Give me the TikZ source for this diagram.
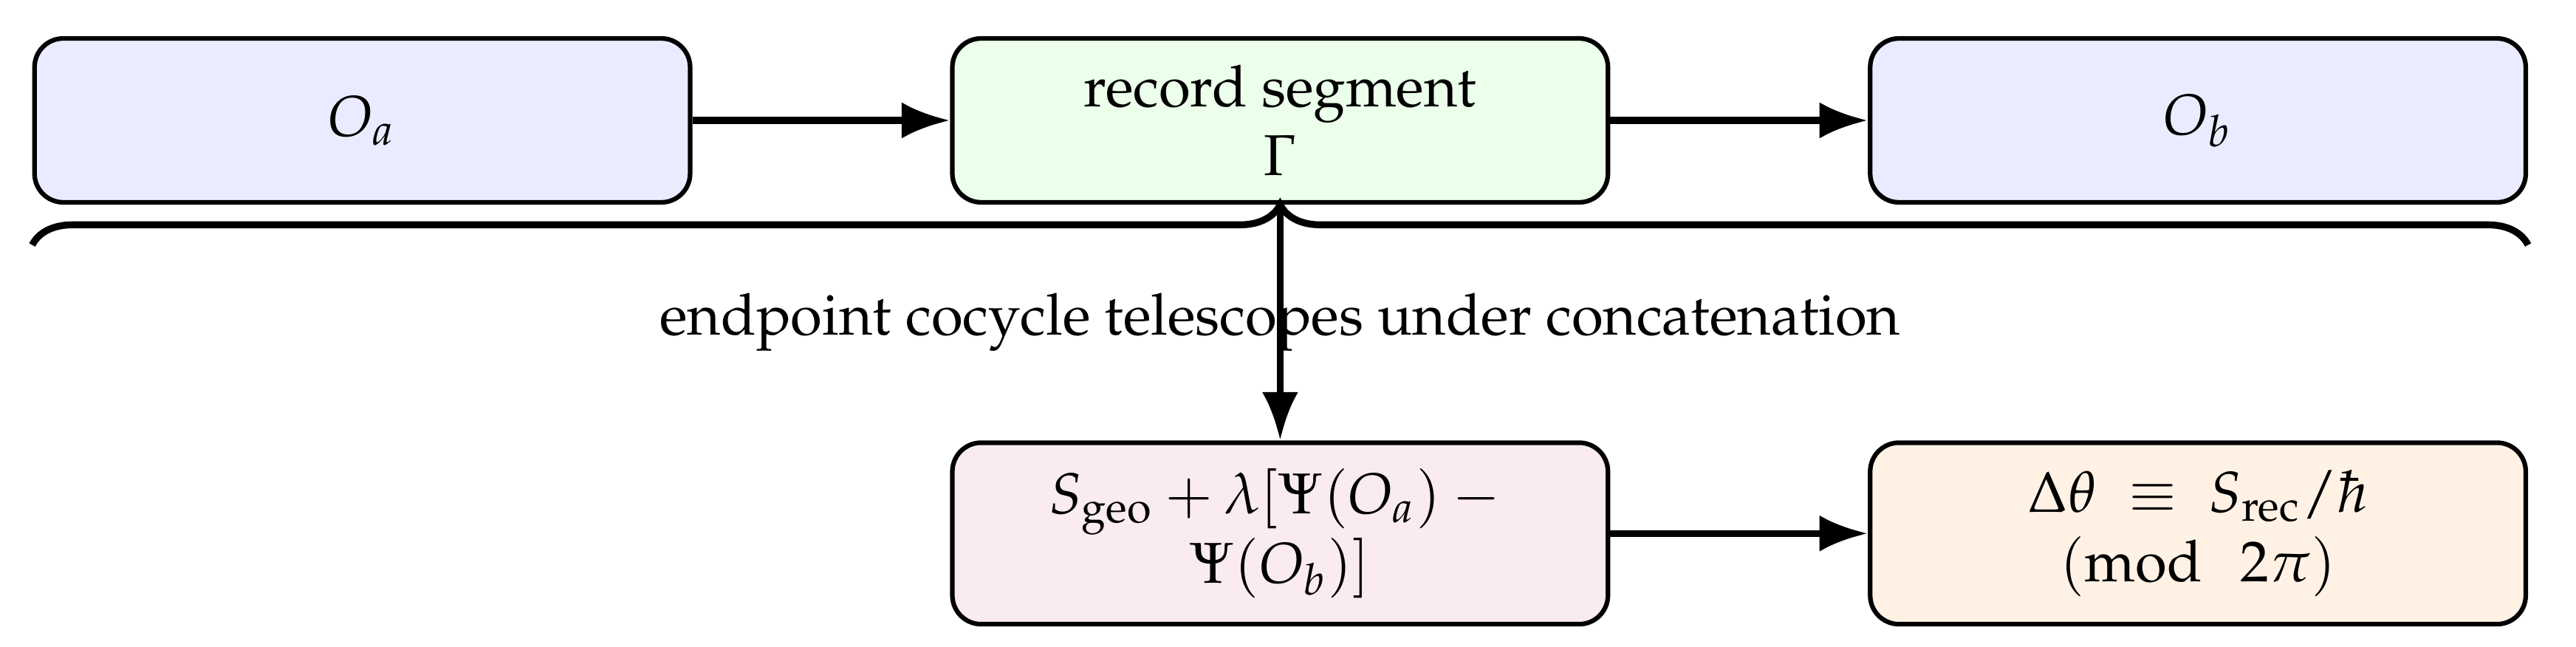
\documentclass[tikz,border=0pt]{standalone}
\usepackage[T1]{fontenc}
\usepackage{amsmath}
\usepackage{mathpazo}
\usetikzlibrary{arrows.meta,decorations.pathreplacing}
\begin{document}
\begin{tikzpicture}[
  box/.style={draw, line width=0.8pt, rounded corners=5pt, minimum width=4cm,
    minimum height=1cm, align=center, inner sep=3pt},
  tallbox/.style={box, minimum height=31.5pt},
  conn/.style={line width=1.2pt, -{Latex}},
  bracestyle/.style={line width=1.2pt, decorate, decoration={brace, amplitude=7pt}}
]
\useasboundingbox (-62.9pt,20.9pt) rectangle (384.3pt,-91.3pt);
\node[box, fill=blue!8] (oa) at (0,0) {$O_a$};
\node[box, fill=green!8] (rec) at (5.6cm,0) {record segment\\$\Gamma$};
\node[box, fill=blue!8] (ob) at (11.2cm,0) {$O_b$};
\node[tallbox, fill=purple!8] (act) at (5.6cm,-71.7pt)
  {$S_{\mathrm{geo}} + \lambda[\Psi(O_a) -{}$\\$\Psi(O_b)]$};
\node[tallbox, fill=orange!10] (phase) at (11.2cm,-71.7pt)
  {$\Delta\theta \;\equiv\; S_{\mathrm{rec}}/\hbar$\\$(\mathrm{mod}\mkern12mu 2\pi)$};
\draw[conn] (oa) -- (rec);
\draw[conn] (rec) -- (ob);
\coordinate (bl) at ([yshift=-7pt]oa.south west);
\coordinate (br) at ([yshift=-7pt]ob.south east);
\draw[bracestyle] (bl) -- (br);
\coordinate (tip) at (rec.south);
\draw[conn] (tip) -- node {endpoint cocycle telescopes under concatenation} (act);
\draw[conn] (act) -- (phase);
\end{tikzpicture}
\end{document}
